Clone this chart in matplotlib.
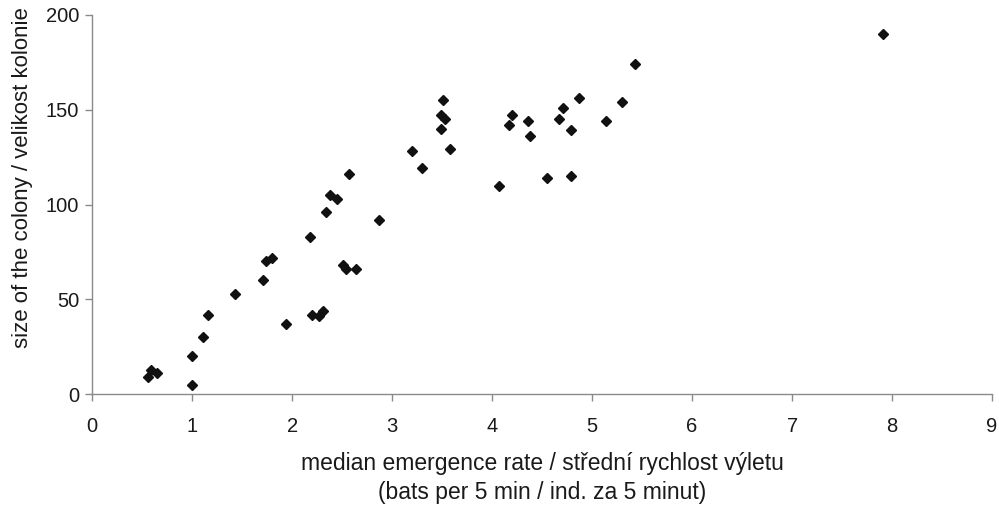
import numpy as np
import matplotlib
matplotlib.use('Agg')
from matplotlib import pyplot as plt

plt.rcParams['font.family'] = ['Liberation Sans', 'DejaVu Sans']

# median emergence rate (bats per 5 min) vs. colony size
rate = [0.56, 0.59, 0.65, 1.00, 1.00, 1.11, 1.16, 1.43, 1.71, 1.74,
        1.80, 1.94, 2.18, 2.20, 2.27, 2.31, 2.34, 2.38, 2.45, 2.51,
        2.54, 2.64, 2.57, 2.87, 3.20, 3.30, 3.51, 3.49, 3.53, 3.49,
        3.58, 4.07, 4.17, 4.20, 4.36, 4.38, 4.55, 4.67, 4.71, 4.79,
        4.79, 4.87, 5.14, 5.30, 5.43, 7.91]
colony = [9, 13, 11, 20, 5, 30, 42, 53, 60, 70,
          72, 37, 83, 42, 41, 44, 96, 105, 103, 68,
          66, 66, 116, 92, 128, 119, 155, 147, 145, 140,
          129, 110, 142, 147, 144, 136, 114, 145, 151, 139,
          115, 156, 144, 154, 174, 190]

xticks = list(range(0, 10))
yticks = [0, 50, 100, 150, 200]

W, H = 999, 505
txt_col = '#1a1a1a'
axis_col = '#8a8a8a'

fig = plt.figure(figsize=(W / 100, H / 100), dpi=100)
ax = fig.add_axes([92.3 / W, (H - 394.3) / H, (992 - 92.3) / W, (394.3 - 14.7) / H])

ax.plot(rate, colony, linestyle='none', marker='D', markersize=5.3,
        color='#111111', clip_on=False)

ax.set_xlim(0, 9)
ax.set_ylim(0, 200)
ax.set_xticks(xticks)
ax.set_yticks(yticks)

for side in ['top', 'right']:
    ax.spines[side].set_visible(False)
for side in ['left', 'bottom']:
    ax.spines[side].set_color(axis_col)
    ax.spines[side].set_linewidth(1.0)

ax.tick_params(axis='x', length=5, width=1, color=axis_col, pad=11,
               labelsize=14.5, labelcolor=txt_col)
ax.tick_params(axis='y', length=5, width=1, color=axis_col, pad=4.5,
               labelsize=14.5, labelcolor=txt_col)

# x label, two lines
fig.text(542 / W, (H - 470) / H, 'median emergence rate / střední rychlost výletu',
         ha='center', va='baseline', fontsize=16.5, color=txt_col)
fig.text(542 / W, (H - 499.3) / H, '(bats per 5 min / ind. za 5 minut)',
         ha='center', va='baseline', fontsize=16.5, color=txt_col)

# y label
fig.text(22.5 / W, (H - 348) / H, 'size of the colony / velikost kolonie',
         rotation=90, fontsize=16, color=txt_col,
         ha='center', va='bottom')

fig.savefig('out.png', dpi=100)
